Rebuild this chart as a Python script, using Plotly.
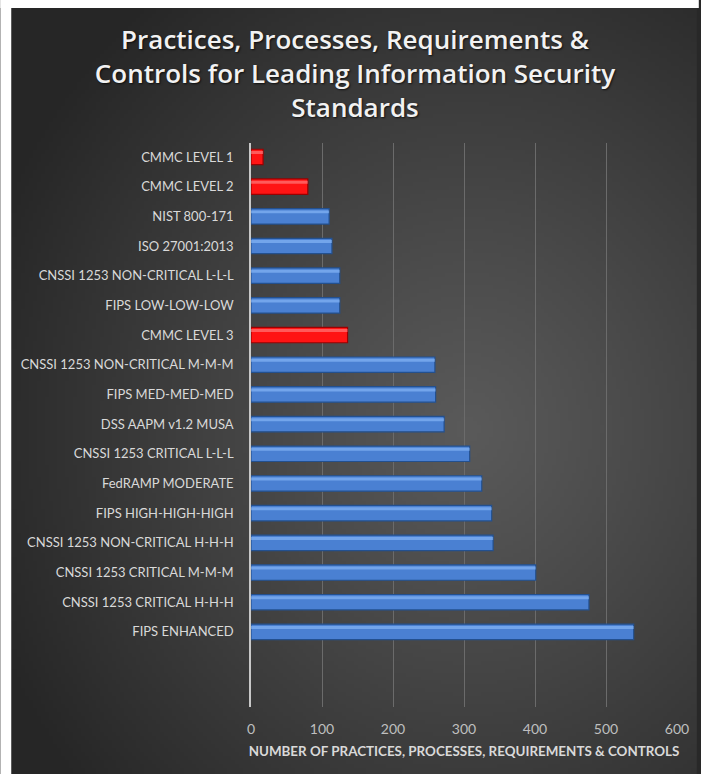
import base64, struct, zlib
import numpy as np
import plotly.graph_objects as go

# ---------------- data (top to bottom as displayed) ----------------
standards = [
    "CMMC LEVEL 1", "CMMC LEVEL 2", "NIST 800-171", "ISO 27001:2013",
    "CNSSI 1253 NON-CRITICAL L-L-L", "FIPS LOW-LOW-LOW", "CMMC LEVEL 3",
    "CNSSI 1253 NON-CRITICAL M-M-M", "FIPS MED-MED-MED", "DSS AAPM v1.2 MUSA",
    "CNSSI 1253 CRITICAL L-L-L", "FedRAMP MODERATE", "FIPS HIGH-HIGH-HIGH",
    "CNSSI 1253 NON-CRITICAL H-H-H", "CNSSI 1253 CRITICAL M-M-M",
    "CNSSI 1253 CRITICAL H-H-H", "FIPS ENHANCED",
]
counts = [17, 80, 110, 114, 125, 125, 136, 259, 260, 272, 308, 325, 339, 341, 401, 476, 539]
x_ticks = [0, 100, 200, 300, 400, 500, 600]

title_text = ("Practices, Processes, Requirements &<br>"
              "Controls for Leading Information Security<br>Standards")
x_title = "NUMBER OF PRACTICES, PROCESSES, REQUIREMENTS & CONTROLS"

W, H = 701, 774
L, R, T, B = 251, 20, 143, 67  # plot area: x 251..681, y 143..707

is_red = [s.startswith("CMMC") for s in standards]
bar_colors = ["#ff1414" if r else "#4a80d2" for r in is_red]
line_colors = ["#9a0000" if r else "#23508f" for r in is_red]
hi_colors = ["rgba(255,150,150,0.55)" if r else "rgba(150,195,255,0.55)" for r in is_red]


# ---------------- radial gradient background image ----------------
def make_png(arr):
    h, w, _ = arr.shape
    raw = b"".join(b"\x00" + arr[i].tobytes() for i in range(h))
    def chunk(tag, data):
        c = struct.pack(">I", len(data)) + tag + data
        return c + struct.pack(">I", zlib.crc32(tag + data) & 0xFFFFFFFF)
    return (b"\x89PNG\r\n\x1a\n"
            + chunk(b"IHDR", struct.pack(">IIBBBBB", w, h, 8, 2, 0, 0, 0))
            + chunk(b"IDAT", zlib.compress(raw, 9))
            + chunk(b"IEND", b""))

bx0, by0 = 9, 8
bw, bh = W - bx0, H - by0
gw, gh = 173, 192
yy, xx = np.mgrid[0:gh, 0:gw]
px = bx0 + (xx + 0.5) * bw / gw
py = by0 + (yy + 0.5) * bh / gh
cx, cy = 470.0, 430.0
d = np.sqrt(((px - cx) / 520.0) ** 2 + ((py - cy) / 560.0) ** 2)
d = np.clip(d, 0, 1)
inner, outer = 90.0, 38.0
v = inner + (outer - inner) * d ** 1.1
img = np.repeat(v[:, :, None], 3, axis=2).astype(np.uint8)
bg_uri = "data:image/png;base64," + base64.b64encode(make_png(img)).decode()
edge_color = "rgb(%d,%d,%d)" % tuple([int(outer + 2)] * 3)

pw, ph = W - L - R, H - T - B


def px_x(p):
    return (p - L) / pw


def px_y(p):
    return (H - B - p) / ph


fig = go.Figure()
fig.add_trace(go.Bar(
    y=standards, x=counts, orientation="h",
    marker=dict(color=bar_colors, line=dict(color=line_colors, width=1.2)),
    width=0.52, offset=-0.26, hoverinfo="x+y", name="count",
))
# bevel highlight strip on the upper part of each bar
fig.add_trace(go.Bar(
    y=standards, x=counts, orientation="h",
    marker=dict(color=hi_colors, line=dict(width=0)),
    width=0.10, offset=-0.20, hoverinfo="skip", name="highlight",
))

fig.update_layout(
    width=W, height=H,
    margin=dict(l=L, r=R, t=T, b=B, pad=0),
    paper_bgcolor=edge_color,
    plot_bgcolor="rgba(0,0,0,0)",
    showlegend=False,
    barmode="overlay",
    title=dict(
        text=title_text, x=(bx0 + W) / 2 / W, xanchor="center",
        y=1 - 49 / H, yanchor="middle", yref="container",
        font=dict(family="'Open Sans', Lato, sans-serif", size=26, color="#f2f2f2", weight=600,
                  shadow="1px 1px 2px rgba(0,0,0,0.7)"),
    ),
    images=[dict(
        source=bg_uri, xref="paper", yref="paper",
        x=px_x(bx0), y=px_y(by0),
        sizex=bw / pw, sizey=bh / ph, xanchor="left", yanchor="top",
        sizing="stretch", layer="below",
    )],
    shapes=[
        # white page border on the left and top
        dict(type="rect", xref="paper", yref="paper", layer="above",
             x0=px_x(-2), x1=px_x(bx0), y0=px_y(H + 2), y1=px_y(-2),
             fillcolor="white", line=dict(width=0)),
        dict(type="rect", xref="paper", yref="paper", layer="above",
             x0=px_x(-2), x1=px_x(W + 2), y0=px_y(by0), y1=px_y(-2),
             fillcolor="white", line=dict(width=0)),
    ],
    xaxis=dict(
        range=[0, 600], tickvals=x_ticks, showgrid=True, gridcolor="#6b6b6b", gridwidth=1,
        zeroline=False, showline=False, ticks="",
        tickfont=dict(family="Lato, sans-serif", size=14, color="#bfbfbf"),
        ticklabelstandoff=12,
        title=dict(text=x_title, standoff=10,
                   font=dict(family="Lato, sans-serif", size=13.4, color="#d9d9d9", weight="bold")),
        fixedrange=True,
    ),
    yaxis=dict(
        type="category", categoryorder="array", categoryarray=standards,
        range=[len(standards) - 1 + 2.53, -0.47],
        showgrid=False, zeroline=False, showline=True, linecolor="#c8c8c8", linewidth=1.5,
        ticks="", ticklabelstandoff=13,
        tickfont=dict(family="Lato, sans-serif", size=13, color="#d9d9d9"),
        fixedrange=True,
    ),
)

fig.write_html(
    "out.html",
    config={"displayModeBar": False},
    post_script=(
        "document.documentElement.style.margin='0';"
        "document.documentElement.style.overflow='hidden';"
        "document.body.style.margin='0';document.body.style.overflow='hidden';"
    ),
)
